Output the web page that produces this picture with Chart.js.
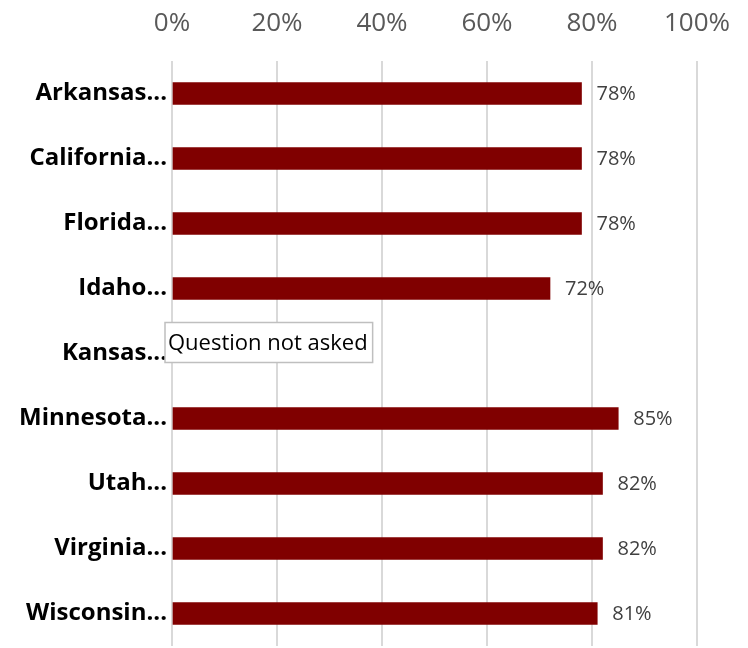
<!DOCTYPE html>
<html>
<head>
<meta charset="utf-8">
<script src="https://cdn.jsdelivr.net/npm/chart.js@4/dist/chart.umd.min.js"></script>
<style>
  html, body { margin: 0; padding: 0; background: #fff; }
  #wrap { width: 748px; height: 648px; }
</style>
</head>
<body>
<div id="wrap"><canvas id="myChart" width="748" height="648"></canvas></div>
<script>
const states = ['Arkansas...', 'California...', 'Florida...', 'Idaho...', 'Kansas...', 'Minnesota...', 'Utah...', 'Virginia...', 'Wisconsin...'];
const shares = [78, 78, 78, 72, null, 85, 82, 82, 81];
const tickValues = [0, 20, 40, 60, 80, 100];
const noteText = 'Question not asked';
const noteState = 'Kansas...';

const valueLabels = {
  id: 'valueLabels',
  afterDatasetsDraw: function (chart) {
    const ctx = chart.ctx;
    const meta = chart.getDatasetMeta(0);
    ctx.save();
    ctx.font = '20px "Open Sans", sans-serif';
    ctx.fillStyle = '#404040';
    ctx.textBaseline = 'middle';
    meta.data.forEach(function (bar, i) {
      if (shares[i] === null) return;
      ctx.fillText(shares[i] + '%', bar.x + 15, bar.y + 1);
    });

    // note box for the state where the question was not asked
    const idx = states.indexOf(noteState);
    const y = chart.scales.y.getPixelForValue(idx) - 11;
    const x = chart.scales.x.getPixelForValue(0) - 7;
    ctx.font = '22px "Open Sans", sans-serif';
    const w = ctx.measureText(noteText).width + 8;
    ctx.fillStyle = '#fff';
    ctx.fillRect(x, y - 20, w, 40);
    ctx.strokeStyle = '#bfbfbf';
    ctx.lineWidth = 1.5;
    ctx.strokeRect(x, y - 20, w, 40);
    ctx.fillStyle = '#000';
    ctx.fillText(noteText, x + 3, y + 1);
    ctx.restore();
  }
};

new Chart(document.getElementById('myChart').getContext('2d'), {
  type: 'bar',
  data: {
    labels: states,
    datasets: [{
      data: shares,
      backgroundColor: '#800000',
      borderColor: '#800000',
      barThickness: 22,
    }]
  },
  options: {
    indexAxis: 'y',
    responsive: false,
    animation: false,
    layout: { padding: { left: 0, right: 51, top: 0, bottom: 2 } },
    plugins: { legend: { display: false }, tooltip: { enabled: false } },
    scales: {
      x: {
        position: 'top',
        min: 0,
        max: 100,
        afterBuildTicks: function (axis) {
          axis.ticks = tickValues.map(function (v) { return { value: v }; });
        },
        afterFit: function (axis) {
          axis.height = 61;
          axis.paddingLeft = 0;
          axis.paddingRight = 0;
        },
        border: { display: false },
        grid: { color: '#d9d9d9', lineWidth: 2, drawTicks: false },
        ticks: {
          padding: 22,
          color: '#595959',
          font: { family: '"Open Sans", sans-serif', size: 26 },
          callback: function (v) { return v + '%'; }
        }
      },
      y: {
        afterFit: function (axis) {
          axis.width = 172;
          axis.paddingTop = 0;
          axis.paddingBottom = 0;
        },
        border: { display: false },
        grid: { display: false, drawTicks: false },
        ticks: {
          padding: 5,
          color: '#000',
          font: { family: '"Open Sans", sans-serif', size: 24, weight: 'bold' }
        }
      }
    }
  },
  plugins: [valueLabels]
});
</script>
</body>
</html>
